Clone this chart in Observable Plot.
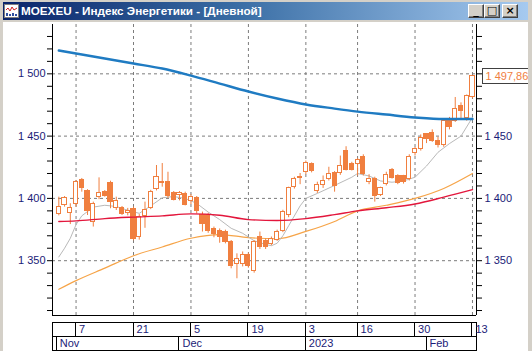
<!DOCTYPE html>
<html><head><meta charset="utf-8">
<script src="https://cdn.jsdelivr.net/npm/d3@7"></script>
<script src="https://cdn.jsdelivr.net/npm/@observablehq/plot@0.6"></script>
<style>
html,body{margin:0;padding:0;background:#fff;width:532px;height:351px;overflow:hidden;font-family:"Liberation Sans",Arial,sans-serif}
#win{position:relative;width:532px;height:351px;background:#fff;overflow:hidden}
#tb{position:absolute;left:0;top:0;width:532px;height:22px;background:#d4d0c8}
#grad{position:absolute;left:3px;top:2px;width:525px;height:18px;background:linear-gradient(to right,#0a246a 0%,#3a6ea5 45%,#a6caf0 100%)}
#tt{position:absolute;left:21px;top:2px;line-height:18px;color:#fff;font-weight:bold;font-size:11.7px;white-space:nowrap;font-family:"Liberation Sans",Arial,sans-serif}
.btn{position:absolute;top:4px;width:14px;height:12px;background:#d4d0c8;border-top:1px solid #fff;border-left:1px solid #fff;border-right:1px solid #404040;border-bottom:1px solid #404040;box-shadow:inset -1px -1px 0 #808080;font:bold 11px "DejaVu Sans",sans-serif;color:#000;text-align:center;line-height:12px}
#icon{position:absolute;left:4px;top:4px}
#main{position:absolute;left:0;top:22px}
#strip{position:absolute;left:0;top:320px}
#lf{position:absolute;left:0;top:22px;width:3px;height:329px;background:#d4d0c8}
#rf{position:absolute;left:528px;top:22px;width:4px;height:329px;background:#d4d0c8}
</style></head>
<body>
<div id="win">
  <div id="tb">
    <div id="grad"></div>
    <svg id="icon" width="15" height="14" viewBox="0 0 15 14"><rect x="0.5" y="0.5" width="14" height="13" fill="#fff" stroke="#808080"/><polyline points="2,6 4,4 6,7 8,3 10,6 13,4" fill="none" stroke="#d02020"/><rect x="2" y="9" width="2" height="3" fill="#3050a0"/><rect x="5" y="10" width="2" height="2" fill="#3050a0"/><rect x="8" y="9" width="2" height="3" fill="#3050a0"/><rect x="11" y="10" width="2" height="2" fill="#3050a0"/></svg>
    <div id="tt">MOEXEU - Индекс Энергетики - [Дневной]</div>
    <div class="btn" style="left:468px">_</div>
    <div class="btn" style="left:484px">□</div>
    <div class="btn" style="left:502px">×</div>
  </div>
  <div id="main"></div>
  <div id="strip"></div>
  <div id="lf"></div><div id="rf"></div>
</div>
<script>
// trading days (index i = position on the x axis)
const dates = ["2022-11-01","2022-11-02","2022-11-03","2022-11-07","2022-11-08","2022-11-09","2022-11-10","2022-11-11","2022-11-14","2022-11-15",
"2022-11-16","2022-11-17","2022-11-18","2022-11-21","2022-11-22","2022-11-23","2022-11-24","2022-11-25","2022-11-28","2022-11-29",
"2022-11-30","2022-12-01","2022-12-02","2022-12-05","2022-12-06","2022-12-07","2022-12-08","2022-12-09","2022-12-12","2022-12-13",
"2022-12-14","2022-12-15","2022-12-16","2022-12-19","2022-12-20","2022-12-21","2022-12-22","2022-12-23","2022-12-26","2022-12-27",
"2022-12-28","2022-12-29","2022-12-30","2023-01-03","2023-01-04","2023-01-05","2023-01-06","2023-01-09","2023-01-10","2023-01-11",
"2023-01-12","2023-01-13","2023-01-16","2023-01-17","2023-01-18","2023-01-19","2023-01-20","2023-01-23","2023-01-24","2023-01-25",
"2023-01-26","2023-01-27","2023-01-30","2023-01-31","2023-02-01","2023-02-02","2023-02-03","2023-02-06","2023-02-07","2023-02-08",
"2023-02-09","2023-02-10","2023-02-13"];
const open = [1387.7,1395,1388.4,1395.7,1415,1406.3,1381,1401,1405,1412.2,
1392.5,1392.5,1388.5,1391.7,1369,1385.5,1392.5,1407.7,1413,1413,
1404.2,1403,1403.7,1397.8,1400,1386.3,1386.3,1375.6,1374.2,1372.9,
1364.8,1347.5,1347.5,1354.2,1342.1,1368.9,1366.2,1363.6,1366.8,1374.2,
1386.3,1409,1416,1421,1427.8,1406.3,1410.4,1415.7,1420.2,1420.2,
1437.9,1427.8,1427.8,1433.6,1413,1415.7,1402.9,1411.2,1422.4,1418.2,
1417.6,1415.7,1436.3,1439.8,1451.3,1452.6,1445.7,1442.5,1463.3,1462.5,
1474,1464.4,1481.2];
const high = [1401,1401.5,1395.7,1414.4,1416,1407,1397,1416.5,1406.3,1413.8,
1401,1393.5,1392,1393,1387,1397,1406.5,1426.4,1428,1421,
1405.5,1405.5,1405,1403,1401.5,1389,1388,1377,1375.5,1374.5,
1366.2,1355.5,1357,1356,1366,1373,1367.5,1369,1374.5,1390.5,
1409,1417,1420,1430,1428.5,1413,1418,1425,1421.5,1434,
1441.5,1429,1432,1435,1419,1417,1409,1421,1424,1419,
1418.5,1435,1441,1451,1452,1455,1449,1463.5,1465,1481,
1476.7,1483,1498.6];
const low = [1386,1393,1379,1393,1405,1386.3,1377,1399,1401,1391.7,
1390.3,1386.3,1386,1366,1366.5,1376,1391,1406,1409,1400,
1398,1398,1394,1395,1387.5,1373,1372,1368.4,1364,1363.5,
1343.5,1335.5,1345,1344,1340,1359,1359,1362,1365.5,1372.5,
1384.5,1407.5,1411,1419,1420.5,1404,1408,1414,1405,1418.5,
1422,1422,1418,1418,1411,1397,1401.5,1410,1415.5,1411,
1411.5,1414,1434,1438,1444,1445,1440.5,1441,1455,1461,
1463,1462,1480];
const close = [1393,1400.2,1392.5,1413,1408.5,1389.5,1395.7,1404.5,1402.3,1397,
1398.3,1387.7,1390,1367.6,1385,1390.3,1405,1417,1412,1402.3,
1399,1404.2,1395.1,1401,1390,1379.6,1374.2,1371.6,1369.4,1364.8,
1346,1351.5,1354.2,1346.1,1364.8,1360.8,1360.8,1367.6,1372.9,1389,
1408.5,1415.7,1417,1428.2,1421.8,1411,1413.6,1419.7,1409.6,1426.4,
1423,1423,1431,1419.7,1415.7,1402.3,1408.2,1419,1416.5,1412.2,
1413,1433,1439.8,1448.3,1447.8,1446.4,1442.5,1462.5,1457.1,1471.4,
1470.5,1482,1497.86];

// moving averages read at these day indices
const maIdx = [0,3,8,13,18,23,28,33,38,43,48,52,57,62,67,72];
const maBlue = [1518.7,1516.3,1512.3,1508.3,1504.3,1498.6,1492.2,1485.8,1480.2,1475.4,1472.1,1469.7,1467.3,1465,1463.7,1463.7];
const maRed = [1381.5,1382,1383.8,1385,1386,1387.6,1386.5,1383,1382.3,1383.8,1387,1390,1392.5,1395.5,1401,1407];
const maOrange = [1327,1334,1344,1354,1361,1368,1371,1368.5,1367.6,1373.5,1381.5,1390,1394.5,1400,1408,1420];
const grayIdx = [0,1,2,3,4,6,8,10,12,14,16,18,20,22,24,26,28,30,32,34,36,37,38,39,40,42,43,45,48,51,52,54,56,58,60,62,64,66,68,70,72];
const maGray = [1353,1360,1368,1379,1386,1393,1394.5,1393.5,1390.5,1388,1394,1400.5,1401.5,1400,1396,1389,1383,1376,1372,1366,1363,1362,1364,1370,1378,1394,1400,1404,1410.4,1417,1420,1418,1414,1413,1414,1417,1426,1437,1444,1450,1465];

// axis labels
const yTicks = [1310,1320,1330,1340,1350,1360,1370,1380,1390,1400,1410,1420,1430,1440,1450,1460,1470,1480,1490,1500,1510,1520,1530];
const yLabelsLeft = [1350,1400,1450,1500];
const yLabelsRight = [1350,1400,1450];
const yGrid = [1350,1400,1450,1500];
const dayTickIdx = [3,13,23,33,43,52,62,72];
const dayTickLabels = ["7","21","5","19","3","16","30","13"];
const monthIdx = [-0.35,21,43,64];
const monthLabels = ["Nov","Dec","2023","Feb"];
const lastLabel = "1 497,86";

const xDomain = [-1.1, 72.7];
const yDomain = [1306, 1539.6];
const C = "#f07f3f", NAVY = "#1b1b78", GRID = "#7c7c7c";
const idx = dates.map((d, i) => i);
const up = idx.filter(i => close[i] >= open[i]);
const dn = idx.filter(i => close[i] < open[i]);
const fmtL = d => yLabelsLeft.includes(d) ? d3.format(",")(d).replace(",", " ") : "";
const fmtR = d => yLabelsRight.includes(d) ? d3.format(",")(d).replace(",", " ") : "";
const hw = 0.36;

const main = Plot.plot({
  width: 532, height: 298,
  marginLeft: 52, marginRight: 56, marginTop: 2, marginBottom: 5,
  style: {background: "transparent", fontFamily: "Liberation Sans, Arial, sans-serif", fontSize: "11px", overflow: "visible"},
  x: {domain: xDomain, axis: null},
  y: {domain: yDomain},
  marks: [
    Plot.ruleY(yGrid, {stroke: GRID, strokeDasharray: "3,3"}),
    Plot.ruleX(dayTickIdx, {stroke: GRID, strokeDasharray: "3,3"}),
    Plot.line(maIdx, {x: (d) => d, y: (d, j) => maOrange[j], stroke: "#f6a448", strokeWidth: 1.2, curve: "monotone-x"}),
    Plot.line(grayIdx, {x: (d) => d, y: (d, j) => maGray[j], stroke: "#b9b9b9", strokeWidth: 1}),
    Plot.ruleX(idx, {x: i => i, y1: i => low[i], y2: i => high[i], stroke: C}),
    Plot.rect(up, {x1: i => i - hw, x2: i => i + hw, y1: i => open[i], y2: i => close[i], fill: "white", stroke: C, shapeRendering: "crispEdges"}),
    Plot.rect(dn, {x1: i => i - hw, x2: i => i + hw, y1: i => open[i], y2: i => close[i], fill: C, stroke: C, shapeRendering: "crispEdges"}),
    Plot.line(maIdx, {x: (d) => d, y: (d, j) => maRed[j], stroke: "#e3163c", strokeWidth: 1.4, curve: "monotone-x"}),
    Plot.line(maIdx, {x: (d) => d, y: (d, j) => maBlue[j], stroke: "#1f7bc2", strokeWidth: 2.4, curve: "monotone-x"}),
    Plot.axisY(yTicks, {anchor: "left", tickSize: 5, tickPadding: 2, tickFormat: fmtL, fill: NAVY, stroke: "#000", label: null, fontSize: 11}),
    Plot.axisY(yTicks, {anchor: "right", tickSize: 5, tickPadding: 3, tickFormat: fmtR, fill: NAVY, stroke: "#000", label: null, fontSize: 11}),
    Plot.ruleX(xDomain, {stroke: "#000"}),
    Plot.ruleY([yDomain[0]], {stroke: "#000"}),
    Plot.text([close[close.length - 1]], {x: xDomain[1], y: d => d, dx: 9, text: () => lastLabel, textAnchor: "start", fill: C, fontSize: 11})
  ]
});
// price label box behind the last-price text
{
  const ys = main.scale("y").apply(close[close.length - 1]);
  const xs = main.scale("x").apply(xDomain[1]);
  const r = document.createElementNS("http://www.w3.org/2000/svg", "rect");
  r.setAttribute("x", xs + 6.5); r.setAttribute("y", Math.round(ys) - 7.5);
  r.setAttribute("width", 52); r.setAttribute("height", 15);
  r.setAttribute("fill", "#fff"); r.setAttribute("stroke", "#404040");
  const texts = main.querySelectorAll("g[aria-label='text']");
  const tg = texts[texts.length - 1];
  tg.parentNode.insertBefore(r, tg);
}
document.getElementById("main").appendChild(main);

const dayBounds = [xDomain[0], ...dayTickIdx, xDomain[1]];
const dayCells = dayBounds.slice(0, -1).map((b, k) => ({a: b, b: dayBounds[k + 1]}));
const monBounds = [xDomain[0], ...monthIdx, xDomain[1]];
const monCells = monBounds.slice(0, -1).map((b, k) => ({a: b, b: monBounds[k + 1]}));

const strip = Plot.plot({
  width: 532, height: 31,
  marginLeft: 52, marginRight: 56, marginTop: 1, marginBottom: 1,
  style: {background: "transparent", fontFamily: "Liberation Sans, Arial, sans-serif", fontSize: "11px", overflow: "visible"},
  x: {domain: xDomain, axis: null},
  y: {type: "band", domain: ["d", "m"], padding: 0, axis: null},
  marks: [
    Plot.barX(dayCells, {x1: "a", x2: "b", y: () => "d", fill: "white", stroke: "#000", shapeRendering: "crispEdges"}),
    Plot.barX(monCells, {x1: "a", x2: "b", y: () => "m", fill: "white", stroke: "#000", shapeRendering: "crispEdges"}),
    Plot.text(dayTickIdx, {x: d => d, y: () => "d", text: (d, j) => dayTickLabels[j], dx: 3, textAnchor: "start", fill: NAVY, fontSize: 11}),
    Plot.text(monthIdx, {x: d => d, y: () => "m", text: (d, j) => monthLabels[j], dx: 3, textAnchor: "start", fill: NAVY, fontSize: 11})
  ]
});
document.getElementById("strip").appendChild(strip);
</script>
</body></html>
